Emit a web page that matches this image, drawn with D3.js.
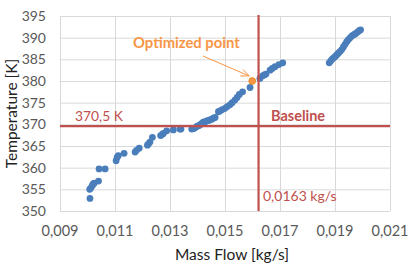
<!DOCTYPE html>
<html>
<head>
<meta charset="utf-8">
<script src="https://cdn.jsdelivr.net/npm/d3@7"></script>
<style>
  body { margin: 0; background: #fff; }
  text { font-family: Lato, 'Open Sans', sans-serif; }
</style>
</head>
<body>
<div id="chart"></div>
<script>
//Datos
const massFlow = [
  0.01009, 0.01008, 0.01012, 0.01017, 0.01020, 0.01024, 0.01040, 0.01042, 0.01064,
  0.01104, 0.01108, 0.01112, 0.01133, 0.01173, 0.01178, 0.01188,
  0.01218, 0.01222, 0.01227, 0.01236, 0.01266, 0.01272, 0.01276, 0.01288, 0.01312, 0.01336, 0.01340,
  0.01379, 0.01385, 0.01391, 0.01398, 0.01404, 0.01410, 0.01416, 0.01421, 0.01428, 0.01434, 0.01440, 0.01445, 0.01452, 0.01458, 0.01464,
  0.01476, 0.01482, 0.01490, 0.01500, 0.01508, 0.01518, 0.01526, 0.01536, 0.01544, 0.01552, 0.01564, 0.01591,
  0.01627, 0.01637, 0.01643, 0.01649, 0.01664, 0.01672, 0.01682, 0.01696, 0.01710,
  0.01879, 0.01884, 0.01889, 0.01894, 0.01900, 0.01906, 0.01912, 0.01918, 0.01924, 0.01930, 0.01936,
  0.01942, 0.01948, 0.01954, 0.01960, 0.01966, 0.01972, 0.01976, 0.01982, 0.01988, 0.01993
]
const temperature = [
  352.9, 355.0, 355.3, 355.8, 356.2, 356.4, 356.9, 359.7, 359.7,
  361.6, 362.4, 362.8, 363.3, 363.6, 364.0, 364.5,
  365.2, 365.5, 365.9, 367.0, 367.4, 367.7, 367.9, 368.5, 368.7, 368.9, 368.9,
  368.9, 369.0, 369.2, 369.5, 369.7, 369.9, 370.2, 370.5, 370.6, 370.8, 370.9, 371.0, 371.2, 371.4, 371.6,
  372.9, 373.1, 373.4, 373.7, 374.1, 374.5, 375.0, 375.6, 376.2, 376.9, 377.5, 378.5,
  380.6, 381.2, 381.4, 381.6, 382.5, 382.9, 383.3, 383.8, 384.2,
  384.2, 384.6, 385.0, 385.3, 385.6, 386.0, 386.4, 386.8, 387.2, 387.8, 388.4,
  389.0, 389.5, 389.9, 390.3, 390.6, 390.8, 391.0, 391.3, 391.6, 391.8
]
const optimized = [0.01599, 380.0]
const baselineFlow = 0.01622
const baselineTemp = 369.6
const xTicks = [0.009, 0.011, 0.013, 0.015, 0.017, 0.019, 0.021]
const yTicks = [350, 355, 360, 365, 370, 375, 380, 385, 390, 395]

//Constantes
const width = 410
const height = 265
const plotLeft = 60, plotRight = 390, plotTop = 16, plotBottom = 211
const blue = '#4a7ebb'
const red = '#c0504d'
const orange = '#f79646'

const svg = d3.select('#chart')
  .append('svg')
  .attr('width', width)
  .attr('height', height)

const x = d3.scaleLinear().domain([0.009, 0.021]).range([plotLeft, plotRight])
const y = d3.scaleLinear().domain([350, 395]).range([plotBottom, plotTop])

//Rejilla
svg.append('g')
  .selectAll('line')
  .data(yTicks)
  .enter()
  .append('line')
  .attr('x1', plotLeft).attr('x2', plotRight)
  .attr('y1', d => y(d) + 0.5).attr('y2', d => y(d) + 0.5)
  .attr('stroke', '#d9d9d9')

svg.append('g')
  .selectAll('line')
  .data(xTicks)
  .enter()
  .append('line')
  .attr('x1', d => x(d) + 0.5).attr('x2', d => x(d) + 0.5)
  .attr('y1', plotTop).attr('y2', plotBottom)
  .attr('stroke', '#d9d9d9')

//Etiquetas de los ejes
const fmt = d3.format('.3f')
svg.append('g')
  .selectAll('text')
  .data(xTicks)
  .enter()
  .append('text')
  .attr('x', d => x(d))
  .attr('y', 236)
  .attr('text-anchor', 'middle')
  .attr('font-size', 14.5)
  .attr('fill', '#595959')
  .text(d => fmt(d).replace('.', ','))

svg.append('g')
  .selectAll('text')
  .data(yTicks)
  .enter()
  .append('text')
  .attr('x', 46)
  .attr('y', d => y(d) + 5)
  .attr('text-anchor', 'end')
  .attr('font-size', 14)
  .attr('fill', '#595959')
  .text(d => d)

svg.append('text')
  .attr('x', 232)
  .attr('y', 260)
  .attr('text-anchor', 'middle')
  .attr('font-size', 15.5)
  .attr('fill', '#222')
  .text('Mass Flow [kg/s]')

svg.append('text')
  .attr('transform', `translate(17, ${(plotTop + plotBottom) / 2}) rotate(-90)`)
  .attr('text-anchor', 'middle')
  .attr('font-size', 15.5)
  .attr('fill', '#222')
  .text('Temperature [K]')

//Puntos
const points = massFlow.map((d, i) => ({ flow: d, temp: temperature[i] }))
svg.append('g')
  .selectAll('circle')
  .data(points)
  .enter()
  .append('circle')
  .attr('cx', d => x(d.flow))
  .attr('cy', d => y(d.temp))
  .attr('r', 3.4)
  .attr('fill', blue)

//Lineas de referencia
svg.append('line')
  .attr('x1', plotLeft).attr('x2', plotRight)
  .attr('y1', y(baselineTemp)).attr('y2', y(baselineTemp))
  .attr('stroke', red)
  .attr('stroke-width', 2.2)

svg.append('line')
  .attr('x1', x(baselineFlow)).attr('x2', x(baselineFlow))
  .attr('y1', plotTop - 1).attr('y2', plotBottom)
  .attr('stroke', red)
  .attr('stroke-width', 2.2)

svg.append('text')
  .attr('x', 75)
  .attr('y', 121)
  .attr('font-size', 13.8)
  .attr('fill', red)
  .text('370,5 K')

svg.append('text')
  .attr('x', 271)
  .attr('y', 121)
  .attr('font-size', 14.5)
  .attr('font-weight', 'bold')
  .attr('fill', red)
  .text('Baseline')

svg.append('text')
  .attr('x', 263)
  .attr('y', 201)
  .attr('font-size', 14)
  .attr('fill', red)
  .text('0,0163 kg/s')

//Punto optimo y flecha
svg.append('circle')
  .attr('cx', x(optimized[0]))
  .attr('cy', y(optimized[1]))
  .attr('r', 3.4)
  .attr('fill', orange)
  .attr('stroke', '#d98a1a')
  .attr('stroke-width', 0.8)

const tipX = x(optimized[0]) - 3
const tipY = y(optimized[1]) - 5
svg.append('line')
  .attr('x1', 203).attr('y1', 56)
  .attr('x2', tipX).attr('y2', tipY)
  .attr('stroke', orange)
  .attr('stroke-width', 1)

const ang = Math.atan2(tipY - 56, tipX - 203)
const head = 9
svg.append('path')
  .attr('d', `M${tipX - head * Math.cos(ang - 0.4)},${tipY - head * Math.sin(ang - 0.4)}L${tipX},${tipY}L${tipX - head * Math.cos(ang + 0.4)},${tipY - head * Math.sin(ang + 0.4)}`)
  .attr('fill', 'none')
  .attr('stroke', orange)
  .attr('stroke-width', 1)

svg.append('text')
  .attr('x', 133)
  .attr('y', 48)
  .attr('font-size', 14.8)
  .attr('font-weight', 'bold')
  .attr('fill', orange)
  .text('Optimized point')
</script>
</body>
</html>
